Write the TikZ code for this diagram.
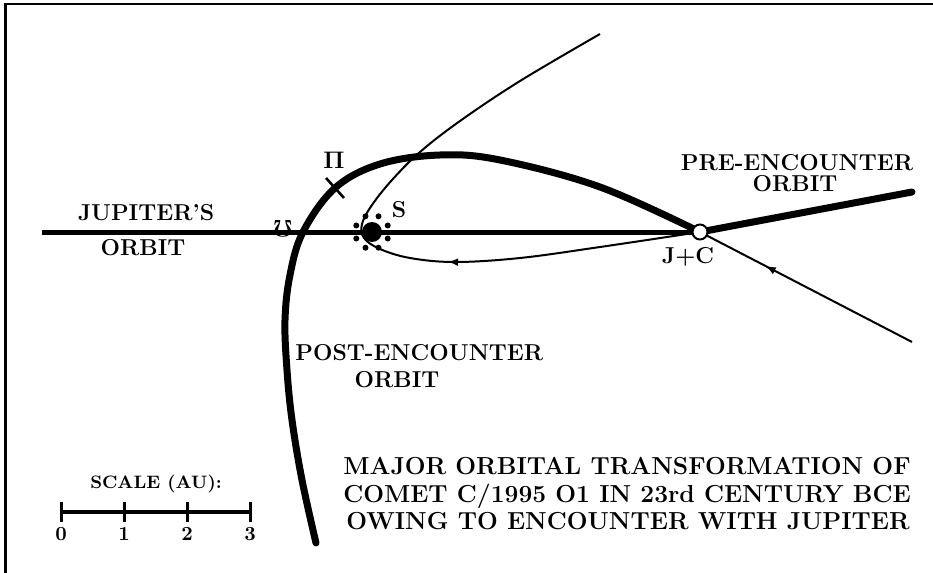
\documentclass[tikz,border=0pt]{standalone}
\usetikzlibrary{decorations.markings,arrows.meta}
\usepackage{graphicx}
\begin{document}
\begin{tikzpicture}[x=0.5pt,y=-0.5pt,
  lbl/.style={font=\fontsize{11.5}{12}\selectfont\bfseries, inner sep=0pt, anchor=base},
  ttl/.style={font=\fontsize{12.3}{14}\selectfont\bfseries, inner sep=0pt, anchor=base},
  small/.style={font=\fontsize{9}{10}\selectfont\bfseries, inner sep=0pt, anchor=base},
  num/.style={font=\fontsize{10}{10}\selectfont\bfseries, inner sep=0pt, anchor=base},
  thinorb/.style={line width=1pt},
  thickorb/.style={line width=3.5pt, line cap=round},
  juporb/.style={line width=2.5pt}]
\useasboundingbox (0,0) rectangle (933,573);
% frame (cropped)
\draw[line width=1.4pt] (5.5,573) -- (5.5,4) -- (933,4);

\coordinate (S) at (372,232);
\coordinate (JL) at (42,232);
\coordinate (JC) at (700,232);
\coordinate (PE) at (912,192);
\coordinate (IN) at (912,342);
\coordinate (TOP) at (600,34);
\coordinate (BOT) at (316,543);

% thin comet path looping round the Sun
\draw[thinorb, decoration={markings, mark=at position 127pt with {\arrow{Latex[length=5pt,width=4pt]}}}, postaction={decorate}]
  plot[smooth, tension=0.6] coordinates {(JC) (600,247) (520,258) (455,262) (410,258) (380,249) (364,238) (362,224) (372,205) (392,180) (420,152) (460,121) (520,81) (TOP)};
% thin incoming path
\draw[thinorb, decoration={markings, mark=at position 0.69 with {\arrow{Latex[length=5pt,width=4pt]}}}, postaction={decorate}]
  (IN) -- (JC);

% Jupiter's orbit
\draw[juporb] (JL) -- (JC);
% pre-encounter orbit
\draw[thickorb] (JC) -- (PE);
% post-encounter orbit
\draw[thickorb] plot[smooth, tension=0.6] coordinates {(JC) (600,187) (500,160) (440,155) (380,164) (335,188) (303,232) (290,275) (285,320) (287,370) (292,420) (302,480) (BOT)};
% perihelion tick
\coordinate (P1) at (326,178);
\coordinate (P2) at (344,198);
\draw[line width=1.3pt] (P1) -- (P2);

% Sun
\node[circle, fill=black, minimum size=10pt, inner sep=0pt] (sun) at (S) {};
\foreach \a in {22.5,67.5,...,337.5}
  \fill[shift={(S)}] (\a:17) circle (1.5pt);
% Jupiter + comet
\node[circle, draw, fill=white, line width=1pt, minimum size=7.5pt, inner sep=0pt] (jc) at (JC) {};

% labels
\node[lbl] (l1) at (146,220) {JUPITER'S};
\node[lbl] (l2) at (143,255) {ORBIT};
\node[lbl] (l3) at (797,170) {PRE-ENCOUNTER};
\node[lbl] (l4) at (795,191) {ORBIT};
\node[lbl, anchor=base west] (l5) at (295,360) {POST-ENCOUNTER};
\node[lbl] (l6) at (397,387) {ORBIT};
\node[lbl] (l7) at (688,263) {J+C};
\node[lbl] (l8) at (399,217) {S};
\node[lbl] (l9) at (334,168) {$\mathbf{\Pi}$};
\node[lbl] (l10) at (283,220) {\rotatebox{180}{$\mathbf{\Omega}$}};

% title
\node[ttl] (t1) at (627,474) {MAJOR ORBITAL TRANSFORMATION OF};
\node[ttl] (t2) at (627,502) {COMET C/1995 O1 IN 23rd CENTURY BCE};
\node[ttl] (t3) at (628,529) {OWING TO ENCOUNTER WITH JUPITER};

% scale bar
\coordinate (s0) at (61,512);
\coordinate (s1) at (124,512);
\coordinate (s2) at (187,512);
\coordinate (s3) at (250,512);
\draw[line width=2pt] (s0) -- (s3);
\foreach \p in {s0,s1,s2,s3}
  \draw[line width=1.5pt] ([yshift=5pt]\p) -- ([yshift=-5pt]\p);
\node[small] (sc) at (156,488) {SCALE (AU):};
\node[num] (n0) at (61,540) {0};
\node[num] (n1) at (124,540) {1};
\node[num] (n2) at (187,540) {2};
\node[num] (n3) at (250,540) {3};
\end{tikzpicture}
\end{document}
